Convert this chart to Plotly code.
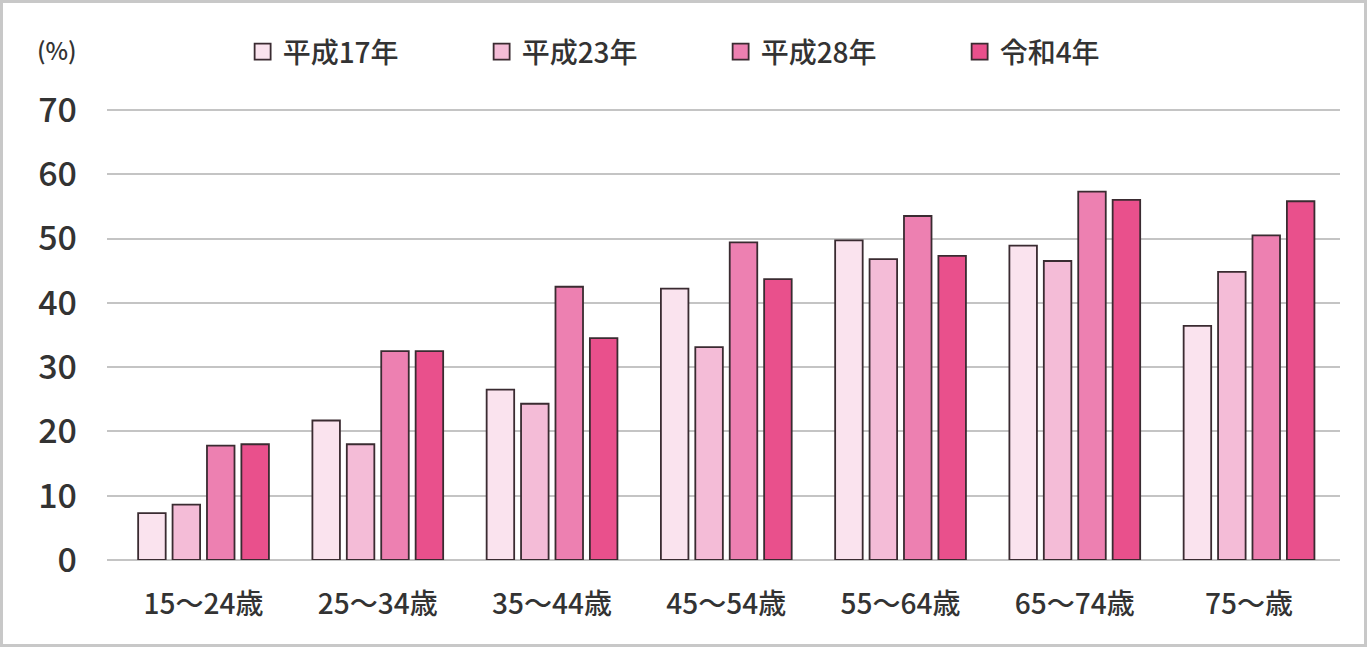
import plotly.graph_objects as go

categories = ["15～24歳", "25～34歳", "35～44歳", "45～54歳", "55～64歳", "65～74歳", "75～歳"]
series_names = ["平成17年", "平成23年", "平成28年", "令和4年"]
h17 = [7.3, 21.7, 26.5, 42.2, 49.7, 48.9, 36.4]
h23 = [8.6, 18.0, 24.3, 33.1, 46.8, 46.5, 44.8]
h28 = [17.8, 32.5, 42.5, 49.4, 53.5, 57.3, 50.5]
r4 = [18.0, 32.5, 34.5, 43.7, 47.3, 56.0, 55.8]
y_ticks = [0, 10, 20, 30, 40, 50, 60, 70]

series_values = [h17, h23, h28, r4]
colors = ["#fae3ee", "#f4bcd7", "#ed80b1", "#e9508c"]
outline = "#3a2b31"
FONT = "Noto Sans CJK JP"

Y_TOP = 70.3
PLOT_L, PLOT_W = 107, 1233
PLOT_B = 560
PLOT_H = 450 * Y_TOP / 70
TOP_M = round(PLOT_B - PLOT_H)


def px(x):
    return (x - PLOT_L) / PLOT_W


def py(y):
    return (PLOT_B - y) / PLOT_H


fig = go.Figure()
for name, vals, col in zip(series_names, series_values, colors):
    fig.add_trace(go.Bar(
        x=categories, y=vals, name=name, showlegend=False,
        marker=dict(color=col, line=dict(color=outline, width=1.8)),
        hoverinfo="skip",
    ))
for name, col in zip(series_names, colors):
    fig.add_trace(go.Scatter(
        x=[None], y=[None], mode="markers", name=name,
        marker=dict(symbol="square", size=18, color=col,
                    line=dict(color=outline, width=1.8)),
    ))

fig.update_layout(
    width=1367, height=648,
    margin=dict(l=PLOT_L, r=1367 - PLOT_L - PLOT_W, t=TOP_M, b=648 - PLOT_B),
    paper_bgcolor="white", plot_bgcolor="white",
    barmode="group", bargap=0.21, bargroupgap=0.2,
    font=dict(family=FONT, color="#333333"),
    legend=dict(
        orientation="h", x=0.11, xanchor="left", y=py(52), yanchor="middle",
        font=dict(size=28, family=FONT, color="#333333", weight=500),
        entrywidth=194, entrywidthmode="pixels",
        itemsizing="trace", bgcolor="rgba(0,0,0,0)",
    ),
    xaxis=dict(
        type="category", categoryorder="array", categoryarray=categories,
        range=[-0.554, 6.522], showgrid=False, showline=False, zeroline=False,
        tickfont=dict(size=28, family=FONT, color="#333333", weight=500),
        ticks="", ticklabelstandoff=25,
    ),
    yaxis=dict(
        range=[0, Y_TOP], tickvals=y_ticks, showgrid=True,
        gridcolor="#c4c4c4", gridwidth=1.5, zeroline=True,
        zerolinecolor="#c4c4c4", zerolinewidth=1.5, showline=False,
        tickfont=dict(size=34, family=FONT, color="#333333", weight=500),
        ticks="", ticklabelstandoff=29,
    ),
    shapes=[dict(
        type="rect", xref="paper", yref="paper",
        x0=px(1.5), x1=px(1365.5), y0=py(645.5), y1=py(1.5),
        line=dict(color="#c8c8c8", width=3), fillcolor="rgba(0,0,0,0)",
        layer="below",
    )],
    annotations=[dict(
        text="(%)", xref="paper", yref="paper",
        x=px(57), y=py(50),
        xanchor="center", yanchor="middle", showarrow=False,
        font=dict(size=24, family=FONT, color="#333333", weight=500),
    )],
)

fig.write_html(
    "out.html",
    config={"displayModeBar": False},
    post_script="document.body.style.margin='0';document.body.style.overflow='hidden';",
)
